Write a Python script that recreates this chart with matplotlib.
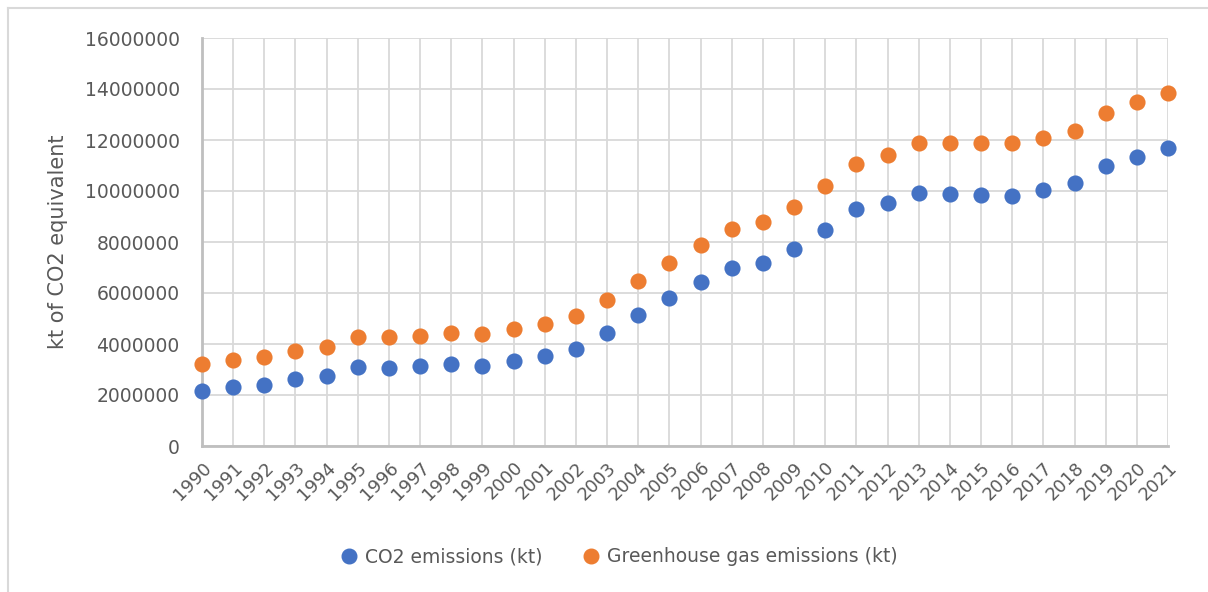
import matplotlib.pyplot as plt
from matplotlib.lines import Line2D

years = list(range(1990, 2022))

co2_kt = [2160000, 2300000, 2400000, 2630000, 2750000, 3090000, 3050000, 3120000,
          3220000, 3140000, 3330000, 3520000, 3800000, 4420000, 5120000, 5820000,
          6420000, 6990000, 7190000, 7710000, 8470000, 9280000, 9540000, 9940000,
          9900000, 9840000, 9820000, 10030000, 10310000, 10990000, 11350000, 11700000]

ghg_kt = [3200000, 3360000, 3490000, 3730000, 3870000, 4260000, 4290000, 4300000,
          4440000, 4380000, 4590000, 4770000, 5090000, 5710000, 6470000, 7190000,
          7880000, 8500000, 8780000, 9370000, 10210000, 11070000, 11400000, 11870000,
          11870000, 11870000, 11870000, 12070000, 12350000, 13060000, 13490000, 13840000]

y_ticks = list(range(0, 16000001, 2000000))

blue = "#4472C4"
orange = "#ED7D31"
txt = "#595959"

W, H = 1208, 592
fig = plt.figure(figsize=(W / 100, H / 100), dpi=100)
ax = fig.add_axes([202 / W, 1 - 446 / H, (1168 - 202) / W, (446 - 38) / H])

ax.scatter(years, co2_kt, s=135, color=blue, zorder=3, clip_on=False, linewidths=0)
ax.scatter(years, ghg_kt, s=135, color=orange, zorder=3, clip_on=False, linewidths=0)

ax.set_xlim(1990, 2021)
ax.set_ylim(0, 16000000)
ax.set_xticks(years)
ax.set_xticklabels([str(y) for y in years], rotation=45, ha="right",
                   rotation_mode="anchor", fontsize=13, color=txt)
ax.set_yticks(y_ticks)
ax.set_yticklabels([str(v) for v in y_ticks], fontsize=13.5, color=txt)
ax.tick_params(length=0)
ax.tick_params(axis="y", pad=16)
ax.tick_params(axis="x", pad=9)

ax.grid(True, color="#d9d9d9", linewidth=1.3, zorder=0)
ax.set_axisbelow(True)
for side in ("top", "right"):
    ax.spines[side].set_visible(False)
for side in ("left", "bottom"):
    ax.spines[side].set_color("#bfbfbf")
    ax.spines[side].set_linewidth(2)

ax.set_ylabel("kt of CO2 equivalent", fontsize=15, color=txt, labelpad=12)

handles = [Line2D([], [], marker="o", linestyle="", color=blue, markersize=10.5),
           Line2D([], [], marker="o", linestyle="", color=orange, markersize=10.5)]
fig.legend(handles, ["CO2 emissions (kt)", "Greenhouse gas emissions (kt)"],
           loc="center", bbox_to_anchor=(0.513, 1 - 557 / H), ncol=2, frameon=False,
           fontsize=13.5, labelcolor=txt, handlelength=0.8, handletextpad=0.45,
           columnspacing=2.2)

# outer chart border
fig.add_artist(Line2D([8 / W, 8 / W], [0, 1 - 8 / H], color="#d9d9d9", linewidth=1.5))
fig.add_artist(Line2D([8 / W, 1], [1 - 8 / H, 1 - 8 / H], color="#d9d9d9", linewidth=1.5))

fig.savefig("out.png", dpi=100)
